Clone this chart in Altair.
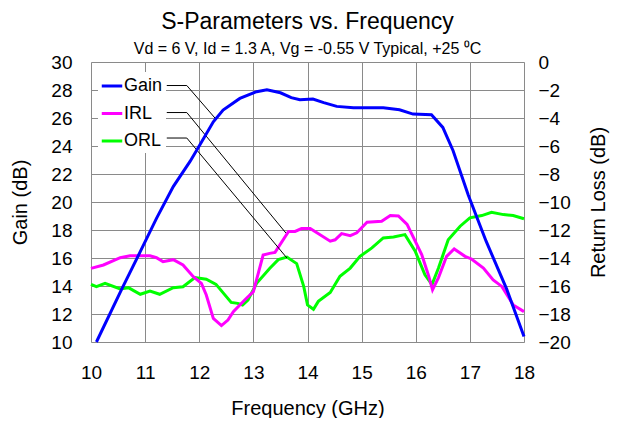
import altair as alt
import pandas as pd

# ---------------- data ----------------
gain_freq = [10.10, 10.57, 10.91, 11.21, 11.52, 11.83, 12.01, 12.26, 12.44, 12.75,
             13.06, 13.25, 13.50, 13.70, 13.86, 14.10, 14.30, 14.54, 14.85, 15.40,
             15.70, 15.95, 16.29, 16.50, 16.69, 16.97, 17.30, 17.68, 18.00]
gain_db = [10.0, 13.8, 16.45, 18.83, 21.1, 22.9, 24.07, 25.73, 26.57, 27.4,
           27.88, 28.02, 27.8, 27.45, 27.3, 27.35, 27.1, 26.83, 26.73, 26.73,
           26.59, 26.28, 26.23, 25.33, 23.66, 20.5, 17.2, 13.78, 10.4]

irl_freq = [10.00, 10.23, 10.54, 10.72, 11.09, 11.21, 11.33, 11.52, 11.70, 11.89,
            12.04, 12.13, 12.26, 12.41, 12.53, 12.63, 12.84, 13.00, 13.18, 13.30,
            13.40, 13.65, 13.77, 13.89, 14.05, 14.42, 14.51, 14.63, 14.79, 14.91,
            15.10, 15.37, 15.53, 15.68, 15.84, 15.99, 16.11, 16.24, 16.31, 16.42,
            16.57, 16.71, 16.91, 17.03, 17.25, 17.43, 17.59, 17.80, 18.00]
irl_db = [-14.74, -14.5, -13.98, -13.84, -13.84, -13.98, -14.26, -14.12, -14.5, -15.33,
          -15.81, -16.64, -18.31, -18.83, -18.43, -17.83, -17.0, -16.4, -13.79, -13.67,
          -13.6, -12.1, -12.1, -11.9, -11.9, -12.8, -12.7, -12.26, -12.4, -12.2,
          -11.45, -11.37, -10.97, -11.0, -11.6, -12.8, -13.76, -15.3, -16.27, -15.4,
          -13.88, -13.36, -13.88, -14.07, -14.72, -15.56, -16.03, -17.35, -17.83]

orl_freq = [10.00, 10.10, 10.26, 10.54, 10.69, 10.91, 11.09, 11.27, 11.52, 11.70,
            11.92, 12.13, 12.31, 12.59, 12.71, 12.80, 12.90, 13.06, 13.30, 13.46,
            13.62, 13.80, 13.93, 14.00, 14.11, 14.20, 14.42, 14.60, 14.79, 14.97,
            15.19, 15.40, 15.59, 15.80, 15.99, 16.17, 16.30, 16.42, 16.60, 16.82,
            17.00, 17.22, 17.40, 17.62, 17.80, 18.00]
orl_db = [-15.88, -16.05, -15.81, -16.21, -16.12, -16.59, -16.36, -16.59, -16.12, -16.05,
          -15.4, -15.52, -15.88, -17.17, -17.24, -17.36, -17.0, -15.81, -14.75, -14.12,
          -13.93, -14.4, -16.03, -17.35, -17.66, -17.1, -16.46, -15.3, -14.72, -13.88,
          -13.28, -12.57, -12.5, -12.33, -13.52, -15.2, -15.9, -14.72, -12.69, -11.73,
          -11.13, -10.97, -10.73, -10.9, -10.97, -11.2]

series_names = ["Gain", "IRL", "ORL"]
series_colors = ["#0000FF", "#FF00FF", "#00FF00"]

# leader lines from legend labels to curves (freq, gain-axis value)
leader_names = ["Gain", "Gain", "Gain", "IRL", "IRL", "IRL", "ORL", "ORL", "ORL"]
leader_freq = [11.40, 11.77, 12.29, 11.40, 11.77, 13.60, 11.40, 11.77, 13.62]
leader_val = [28.32, 28.32, 26.0, 26.39, 26.39, 17.79, 24.57, 24.57, 16.0]

gain_ticks = list(range(10, 31, 2))
rl_ticks = list(range(-20, 1, 2))
freq_ticks = list(range(10, 19))

FONT = "Liberation Sans"
GRID = "#8a8a8a"

gain_df = pd.DataFrame({"freq": gain_freq, "value": gain_db, "series": "Gain"})
irl_df = pd.DataFrame({"freq": irl_freq, "value": irl_db, "series": "IRL"})
orl_df = pd.DataFrame({"freq": orl_freq, "value": orl_db, "series": "ORL"})
lead_df = pd.DataFrame({"freq": leader_freq, "value": leader_val, "leader": leader_names})

color_scale = alt.Scale(domain=series_names, range=series_colors)
legend = alt.Legend(
    title=None, orient="none", legendX=7, legendY=10,
    symbolType="stroke", symbolStrokeWidth=3, symbolSize=420,
    labelFontSize=18, labelFont=FONT, labelColor="black", labelOffset=0,
    rowPadding=6.5, padding=2, fillColor="white", strokeColor="white",
)

x_enc = alt.X("freq:Q", scale=alt.Scale(domain=[10, 18], nice=False),
              axis=alt.Axis(values=freq_ticks, title="Frequency (GHz)", grid=True,
                            gridColor=GRID, domain=False, ticks=False, labelFlush=False,
                            labelPadding=21, labelFontSize=19, labelFont=FONT,
                            titleFontSize=20, titleFont=FONT, titleFontWeight="normal",
                            titlePadding=16, labelColor="black", titleColor="black"))

left_axis = alt.Axis(orient="left", values=gain_ticks, title="Gain (dB)", grid=True,
                     gridColor=GRID, domain=False, ticks=False, labelPadding=19,
                     labelFlush=False,
                     labelFontSize=19, labelFont=FONT, titleFontSize=20, titleFont=FONT,
                     titleFontWeight="normal", titlePadding=20,
                     labelColor="black", titleColor="black")
right_axis = alt.Axis(orient="right", values=rl_ticks, title="Return Loss (dB)", grid=False,
                      domain=False, ticks=False, labelPadding=14, labelAlign="left",
                      labelFlush=False, titleAngle=270,
                      labelFontSize=19, labelFont=FONT, titleFontSize=20, titleFont=FONT,
                      titleFontWeight="normal", titlePadding=38,
                      labelColor="black", titleColor="black")

rl_y = alt.Y("value:Q", scale=alt.Scale(domain=[-20, 0], nice=False), axis=right_axis)
gain_y = alt.Y("value:Q", scale=alt.Scale(domain=[10, 30], nice=False), axis=left_axis)

orl_line = alt.Chart(orl_df).mark_line(strokeWidth=3).encode(
    x=x_enc, y=rl_y, color=alt.Color("series:N", scale=color_scale, legend=legend))
irl_line = alt.Chart(irl_df).mark_line(strokeWidth=3).encode(
    x=x_enc, y=rl_y, color=alt.Color("series:N", scale=color_scale, legend=legend))
rl_layer = alt.layer(orl_line, irl_line)

leaders = alt.Chart(lead_df).mark_line(strokeWidth=1, color="black").encode(
    x=x_enc, y=gain_y, detail="leader:N")
gain_line = alt.Chart(gain_df).mark_line(strokeWidth=3).encode(
    x=x_enc, y=gain_y, color=alt.Color("series:N", scale=color_scale, legend=legend))
gain_layer = alt.layer(leaders, gain_line)

chart = alt.layer(rl_layer, gain_layer).resolve_scale(y="independent").properties(
    width=433, height=280,
    autosize=alt.AutoSizeParams(type="none"),
    padding={"left": 83, "top": 54, "right": 89, "bottom": 76},
    title=alt.TitleParams(
        "S-Parameters vs. Frequency",
        subtitle="Vd = 6 V, Id = 1.3 A, Vg = -0.55 V Typical, +25 \u2070C",
        font=FONT, fontSize=23, fontWeight="normal", color="black",
        subtitleFont=FONT, subtitleFontSize=16, subtitleColor="black",
        subtitlePadding=7, anchor="middle", offset=-4,
    ),
).configure_view(stroke="#808080", strokeWidth=1.5).configure(background="white")

chart.save("out.html", embed_options={"renderer": "svg", "actions": False})
